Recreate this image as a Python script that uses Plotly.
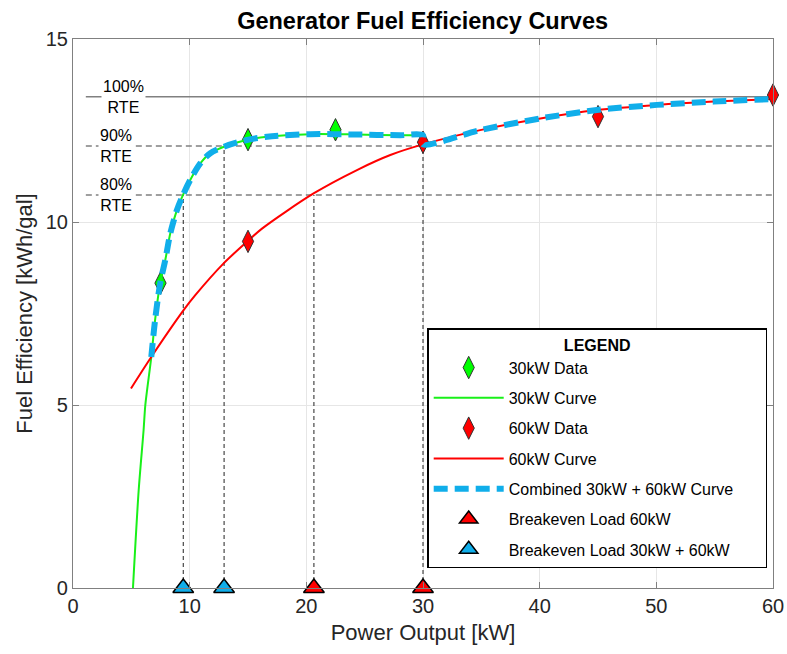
import plotly.graph_objects as go

# ---------------- data ----------------
# 30 kW generator: measured points and fitted curve
data30_x = [7.5, 15.0, 22.5]
data30_y = [8.33, 12.25, 12.52]
curve30_x = [5.14, 5.63, 6.05, 6.20, 6.71, 7.05, 7.48, 7.91, 8.34, 8.91, 9.43,
             10.05, 10.91, 11.77, 13.05, 14.62, 16.63, 20.34, 24.34, 28.05, 30.0]
curve30_y = [0.0, 2.67, 4.31, 5.00, 6.31, 7.36, 8.34, 8.96, 9.69, 10.33, 10.74,
             11.15, 11.60, 11.88, 12.07, 12.22, 12.33, 12.40, 12.39, 12.37, 12.37]

# 60 kW generator: measured points and fitted curve
data60_x = [15.0, 30.0, 45.0, 60.0]
data60_y = [9.47, 12.18, 12.88, 13.47]
curve60_x = [4.97, 6.71, 9.48, 10.48, 12.91, 14.91, 16.20, 20.62, 24.34, 27.20,
             30.0, 34.9, 40.06, 44.9, 50.06, 54.9, 60.0]
curve60_y = [5.45, 6.31, 7.59, 8.00, 8.87, 9.46, 9.82, 10.78, 11.42, 11.83,
             12.12, 12.51, 12.83, 13.06, 13.20, 13.29, 13.36]

# combined curve: 30 kW curve from its crossing with the 60 kW curve up to 30 kW,
# then the 60 kW curve from 30 kW on
combined_start = 6.71
switch_kw = 30.0

# round-trip-efficiency reference levels
rte_max = 13.42
rte_levels = [1.0, 0.9, 0.8]
rte_labels = ["100%<br>RTE", "90%<br>RTE", "80%<br>RTE"]

# breakeven loads
be60_x = [20.65, 30.0]
be60_level = [0.8, 0.9]
be_combo_x = [9.45, 12.95]
be_combo_level = [0.8, 0.9]

x_ticks = [0, 10, 20, 30, 40, 50, 60]
y_ticks = [0, 5, 10, 15]

# ---------------- styling ----------------
FONT = "Liberation Sans, Arial, sans-serif"
GREEN = "#19f019"
RED = "#ff0000"
BLUE = "#10aeea"
TXT = "#262626"
PAD = "\u00a0" * 6   # widens the legend box to the reference's width

comb_x = [x for x in curve30_x if x >= combined_start and x <= switch_kw] + \
         [x for x in curve60_x if x >= switch_kw]
comb_y = [y for x, y in zip(curve30_x, curve30_y) if x >= combined_start and x <= switch_kw] + \
         [y for x, y in zip(curve60_x, curve60_y) if x >= switch_kw]

fig = go.Figure()

fig.add_trace(go.Scatter(x=data30_x, y=data30_y, mode="markers", name="30kW Data",
                         legendgroup="a", legendrank=1,
                         marker=dict(symbol="diamond-tall", size=16, color="#00ff00",
                                     line=dict(color="#333333", width=1))))
fig.add_trace(go.Scatter(x=curve30_x, y=curve30_y, mode="lines", name="30kW Curve",
                         legendgroup="b", legendrank=2,
                         line=dict(color=GREEN, width=2, shape="spline", smoothing=0.8)))
fig.add_trace(go.Scatter(x=curve60_x, y=curve60_y, mode="lines", name="60kW Curve",
                         legendgroup="d", legendrank=4,
                         line=dict(color=RED, width=2, shape="spline", smoothing=0.8)))
fig.add_trace(go.Scatter(x=data60_x, y=data60_y, mode="markers", name="60kW Data",
                         legendgroup="c", legendrank=3, cliponaxis=False,
                         marker=dict(symbol="diamond-tall", size=16, color="#ff0000",
                                     line=dict(color="#333333", width=1))))
fig.add_trace(go.Scatter(x=comb_x, y=comb_y, mode="lines",
                         name="Combined 30kW + 60kW Curve" + PAD,
                         legendgroup="e", legendrank=5,
                         line=dict(color=BLUE, width=6, dash="14px,7px",
                                   shape="spline", smoothing=0.8)))
fig.add_trace(go.Scatter(x=be60_x, y=[0] * len(be60_x), mode="markers",
                         name="Breakeven Load 60kW", legendgroup="f", legendrank=6,
                         cliponaxis=False,
                         marker=dict(symbol="triangle-up", size=18, color="#ff0000",
                                     line=dict(color="#000000", width=1.5))))
fig.add_trace(go.Scatter(x=be_combo_x, y=[0] * len(be_combo_x), mode="markers",
                         name="Breakeven Load 30kW + 60kW", legendgroup="g", legendrank=7,
                         cliponaxis=False,
                         marker=dict(symbol="triangle-up", size=18, color=BLUE,
                                     line=dict(color="#000000", width=1.5))))

shapes = []
for lvl in rte_levels:
    shapes.append(dict(type="line", xref="x", yref="y", x0=1.1, x1=60,
                       y0=rte_max * lvl, y1=rte_max * lvl, layer="between",
                       line=dict(color="#808080", width=1.5,
                                 dash="solid" if lvl == 1.0 else "6px,4px")))
for bx, bl in zip(be_combo_x + be60_x, be_combo_level + be60_level):
    shapes.append(dict(type="line", xref="x", yref="y", x0=bx, x1=bx,
                       y0=0, y1=rte_max * bl, layer="between",
                       line=dict(color="#222222", width=1, dash="4px,3px")))

annotations = []
for lvl, lab, ax in zip(rte_levels, rte_labels, [4.3, 3.7, 3.7]):
    annotations.append(dict(x=ax, y=rte_max * lvl, xref="x", yref="y", text=lab,
                            showarrow=False, bgcolor="white",
                            font=dict(family=FONT, size=16, color="#000000"),
                            align="center", borderpad=1))

fig.update_layout(
    width=787, height=654,
    margin=dict(l=73, r=14, t=39, b=66, autoexpand=False),
    paper_bgcolor="white", plot_bgcolor="white",
    font=dict(family=FONT, color=TXT),
    title=dict(text="<b>Generator Fuel Efficiency Curves</b>", x=0.537, xanchor="center",
               y=0.968, yanchor="middle", font=dict(family=FONT, size=23.5, color="#000000")),
    shapes=shapes, annotations=annotations,
    legend=dict(x=0.506, y=0.473, xanchor="left", yanchor="top",
                bgcolor="white", bordercolor="#000000", borderwidth=1.5,
                font=dict(family=FONT, size=16, color="#000000"),
                title=dict(text="<b>LEGEND</b>", side="top center",
                           font=dict(family=FONT, size=16, color="#000000")),
                itemwidth=70, tracegroupgap=6.5, traceorder="grouped"),
)
fig.update_xaxes(range=[0, 60], tickvals=x_ticks, ticks="inside", ticklen=6,
                 tickcolor="#808080", showline=True, linecolor="#808080", linewidth=1.2,
                 mirror="ticks", showgrid=True, gridcolor="#e6e6e6", gridwidth=1,
                 zeroline=False, automargin=False,
                 tickfont=dict(family=FONT, size=20, color=TXT),
                 title=dict(text="Power Output [kW]", font=dict(family=FONT, size=22, color=TXT),
                            standoff=8))
fig.update_yaxes(range=[0, 15], tickvals=y_ticks, ticks="inside", ticklen=6,
                 tickcolor="#808080", showline=True, linecolor="#808080", linewidth=1.2,
                 mirror="ticks", showgrid=True, gridcolor="#e6e6e6", gridwidth=1,
                 zeroline=False, automargin=False,
                 tickfont=dict(family=FONT, size=20, color=TXT),
                 title=dict(text="Fuel Efficiency [kWh/gal]",
                            font=dict(family=FONT, size=22, color=TXT), standoff=6))

fig.write_html("out.html", config={"displayModeBar": False},
               post_script="document.body.style.margin='0px';document.body.style.padding='0px';")
